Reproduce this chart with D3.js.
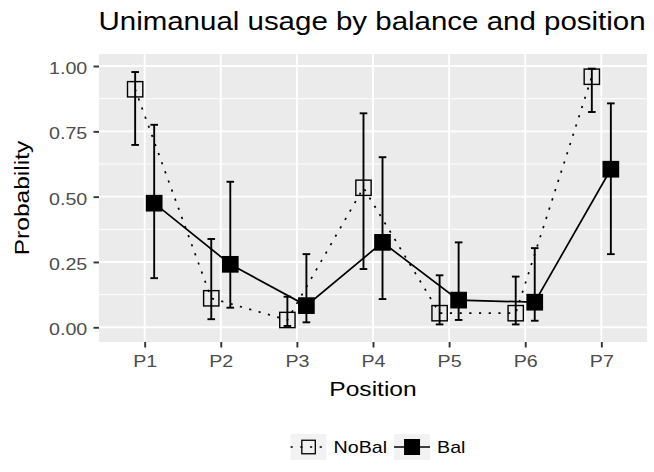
<!DOCTYPE html>
<html>
<head>
<meta charset="utf-8">
<script src="https://cdn.jsdelivr.net/npm/d3@7"></script>
<style>
  body { margin: 0; background: #ffffff; }
  text { font-family: "Liberation Sans", Arial, Helvetica, sans-serif; }
</style>
</head>
<body>
<svg id="chart" width="654" height="472"></svg>
<script>
// Categories and groups
const positions = ["P1", "P2", "P3", "P4", "P5", "P6", "P7"];
const groups = ["NoBal", "Bal"];

// Estimated probabilities with lower / upper interval bounds
const noBalProb  = [0.911, 0.111, 0.028, 0.534, 0.054, 0.054, 0.959];
const noBalLower = [0.698, 0.031, 0.005, 0.223, 0.011, 0.011, 0.824];
const noBalUpper = [0.977, 0.338, 0.117, 0.819, 0.199, 0.194, 0.990];
const balProb    = [0.475, 0.241, 0.083, 0.325, 0.104, 0.096, 0.605];
const balLower   = [0.188, 0.075, 0.019, 0.108, 0.028, 0.025, 0.280];
const balUpper   = [0.775, 0.557, 0.280, 0.651, 0.325, 0.303, 0.857];

// Axis ticks
const yTicks = [0, 0.25, 0.5, 0.75, 1];
const yMinorTicks = [0.125, 0.375, 0.625, 0.875];
const yTickLabels = ["0.00", "0.25", "0.50", "0.75", "1.00"];

// Build one record per group/position
const series = [
  { group: "NoBal", prob: noBalProb, lower: noBalLower, upper: noBalUpper },
  { group: "Bal",   prob: balProb,   lower: balLower,   upper: balUpper }
].map(s => ({
  group: s.group,
  values: positions.map((p, i) => ({ pos: p, prob: s.prob[i], lower: s.lower[i], upper: s.upper[i] }))
}));

const svg = d3.select("#chart");
const panel = { left: 99, right: 647, top: 54, bottom: 342 };
const SX = 1.17;          // horizontal text widening
const BASE = 21;          // base font size

const x = d3.scalePoint().domain(positions).range([panel.left, panel.right]).padding(0.6);
const y = d3.scaleLinear().domain([-0.0563, 1.046]).range([panel.bottom, panel.top]);
const step = x.step();
const dodgeOffset = { NoBal: -0.125 * step, Bal: 0.125 * step };
const capHalf = 0.05 * step;
const styles = {
  NoBal: { dash: "2.2 7.5", fill: "none" },
  Bal:   { dash: null,      fill: "#000000" }
};
const sq = 16.7;

// Panel background
svg.append("rect")
  .attr("x", panel.left).attr("y", panel.top)
  .attr("width", panel.right - panel.left).attr("height", panel.bottom - panel.top)
  .attr("fill", "#EBEBEB");

// Grid lines
const grid = svg.append("g");
grid.selectAll(".minor").data(yMinorTicks).join("line")
  .attr("x1", panel.left).attr("x2", panel.right)
  .attr("y1", d => y(d)).attr("y2", d => y(d))
  .attr("stroke", "#ffffff").attr("stroke-width", 0.95);
grid.selectAll(".majorY").data(yTicks).join("line")
  .attr("x1", panel.left).attr("x2", panel.right)
  .attr("y1", d => y(d)).attr("y2", d => y(d))
  .attr("stroke", "#ffffff").attr("stroke-width", 1.9);
grid.selectAll(".majorX").data(positions).join("line")
  .attr("y1", panel.top).attr("y2", panel.bottom)
  .attr("x1", d => x(d)).attr("x2", d => x(d))
  .attr("stroke", "#ffffff").attr("stroke-width", 1.9);

// Axes
const xAxis = svg.append("g")
  .attr("transform", `translate(0,${panel.bottom})`)
  .call(d3.axisBottom(x).tickSize(5.5).tickPadding(4));
const yAxis = svg.append("g")
  .attr("transform", `translate(${panel.left},0)`)
  .call(d3.axisLeft(y).tickValues(yTicks).tickFormat((d, i) => yTickLabels[i]).tickSize(5.5));
[xAxis, yAxis].forEach(a => {
  a.select(".domain").remove();
  a.selectAll(".tick line").attr("stroke", "#333333").attr("stroke-width", 1.9);
  a.selectAll(".tick text")
    .attr("fill", "#4D4D4D")
    .style("font-size", (BASE * 0.8) + "px")
    .attr("transform", `scale(${SX},1)`);
});
xAxis.selectAll(".tick text").attr("dy", "0.71em").attr("y", 13);
yAxis.selectAll(".tick text").attr("x", -11.7 / SX).attr("dy", "0.45em");

// Helper for widened text
function label(txt, tx, ty, size, anchor, rotate, color) {
  return svg.append("text")
    .attr("transform", `translate(${tx},${ty})${rotate ? " rotate(" + rotate + ")" : ""} scale(${SX},1)`)
    .attr("text-anchor", anchor)
    .attr("fill", color || "#000000")
    .style("font-size", size + "px")
    .text(txt);
}

// Titles
label("Unimanual usage by balance and position", 372, 30, BASE * 1.2, "middle");
label("Position", (panel.left + panel.right) / 2, 396, BASE, "middle");
label("Probability", 29, (panel.top + panel.bottom) / 2, BASE, "middle", -90);

// Connecting lines
const lineGen = d3.line()
  .x(d => d.xp)
  .y(d => y(d.prob));
const marks = svg.append("g");
series.forEach(s => {
  s.values.forEach(v => { v.xp = x(v.pos) + dodgeOffset[s.group]; });
  marks.append("path")
    .datum(s.values)
    .attr("d", lineGen)
    .attr("fill", "none")
    .attr("stroke", "#000000")
    .attr("stroke-width", 1.7)
    .attr("stroke-dasharray", styles[s.group].dash);
});

// Error bars
series.forEach(s => {
  const eb = marks.append("g").selectAll("g").data(s.values).join("g");
  eb.append("line")
    .attr("x1", d => d.xp).attr("x2", d => d.xp)
    .attr("y1", d => y(d.lower)).attr("y2", d => y(d.upper));
  eb.append("line")
    .attr("x1", d => d.xp - capHalf).attr("x2", d => d.xp + capHalf)
    .attr("y1", d => y(d.upper)).attr("y2", d => y(d.upper));
  eb.append("line")
    .attr("x1", d => d.xp - capHalf).attr("x2", d => d.xp + capHalf)
    .attr("y1", d => y(d.lower)).attr("y2", d => y(d.lower));
  eb.selectAll("line").attr("stroke", "#000000").attr("stroke-width", 1.9);
});

// Points
series.forEach(s => {
  const open = styles[s.group].fill === "none";
  const size = open ? sq - 1.4 : sq;
  marks.append("g").selectAll("rect").data(s.values).join("rect")
    .attr("x", d => d.xp - size / 2)
    .attr("y", d => y(d.prob) - size / 2)
    .attr("width", size).attr("height", size)
    .attr("fill", styles[s.group].fill)
    .attr("stroke", open ? "#000000" : "none")
    .attr("stroke-width", 1.4);
});

// Legend
const keyW = 36, keyH = 26, gapKeyText = 7, gapItems = 7;
const legendCY = 447;
const legend = svg.append("g");
const items = groups.map(g => {
  const it = legend.append("g");
  it.append("rect").attr("x", 0).attr("y", -keyH / 2).attr("width", keyW).attr("height", keyH).attr("fill", "#F2F2F2");
  it.append("line").attr("x1", 0).attr("x2", keyW).attr("y1", 0).attr("y2", 0)
    .attr("stroke", "#000000").attr("stroke-width", 1.7)
    .attr("stroke-dasharray", styles[g].dash);
  const open = styles[g].fill === "none";
  const ks = open ? 13.5 : 16;
  it.append("rect").attr("x", keyW / 2 - ks / 2).attr("y", -ks / 2).attr("width", ks).attr("height", ks)
    .attr("fill", styles[g].fill).attr("stroke", open ? "#000000" : "none").attr("stroke-width", 1.3);
  const t = it.append("text")
    .attr("transform", `translate(${keyW + gapKeyText},0) scale(${SX},1)`)
    .attr("dy", "0.36em")
    .style("font-size", (BASE * 0.8) + "px")
    .attr("fill", "#000000")
    .text(g);
  const w = keyW + gapKeyText + t.node().getComputedTextLength() * SX;
  return { it, w };
});
const total = d3.sum(items, d => d.w) + gapItems * (items.length - 1);
let lx = 378 - total / 2;
items.forEach(d => {
  d.it.attr("transform", `translate(${lx},${legendCY})`);
  lx += d.w + gapItems;
});
</script>
</body>
</html>
